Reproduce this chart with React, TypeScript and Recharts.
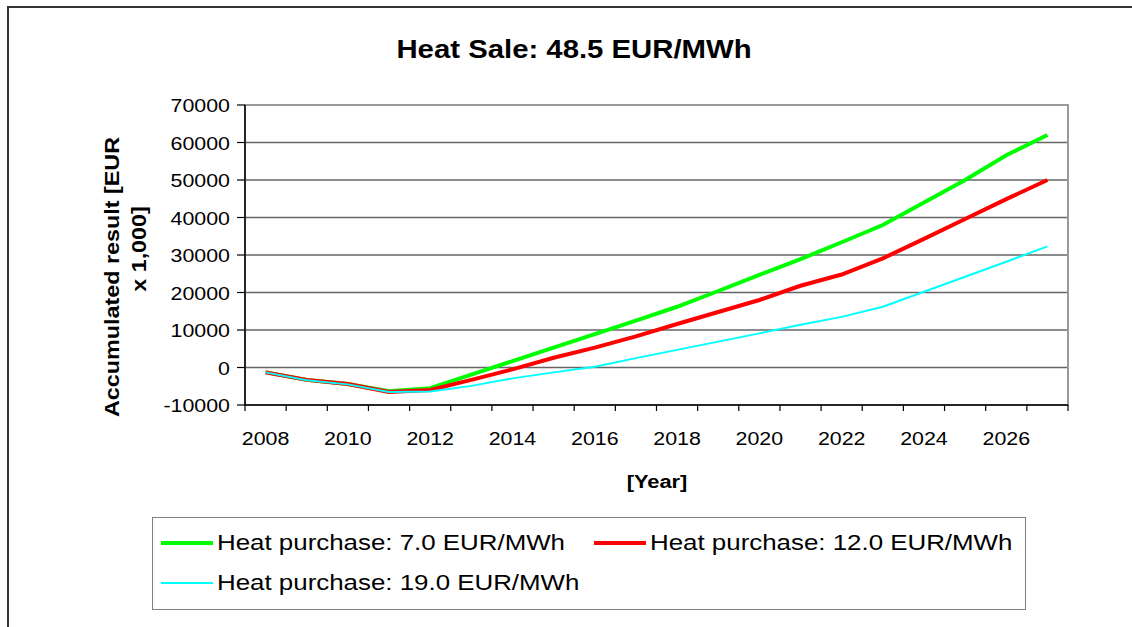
import { CartesianGrid, Line, LineChart, XAxis, YAxis } from 'recharts';

const years = [
  2008, 2009, 2010, 2011, 2012, 2013, 2014, 2015, 2016, 2017,
  2018, 2019, 2020, 2021, 2022, 2023, 2024, 2025, 2026, 2027,
];

const purchase7 = [
  -1300, -3300, -4400, -6300, -5500, -1900, 1700, 5300, 8900, 12500,
  16200, 20400, 24700, 28900, 33400, 38000, 44000, 50000, 56600, 62000,
];

const purchase12 = [
  -1300, -3300, -4400, -6500, -6000, -3300, -500, 2600, 5300, 8300,
  11600, 14800, 18000, 21800, 24800, 29100, 34300, 39600, 44900, 50000,
];

const purchase19 = [
  -1300, -3400, -4500, -6500, -6400, -4900, -2900, -1300, 200, 2500,
  4700, 6900, 9100, 11400, 13500, 16200, 20200, 24200, 28200, 32300,
];

const yTicks = [-10000, 0, 10000, 20000, 30000, 40000, 50000, 60000, 70000];

const series = [
  { key: 'p7', name: 'Heat purchase: 7.0 EUR/MWh', color: '#00ff00', width: 4, values: purchase7 },
  { key: 'p12', name: 'Heat purchase: 12.0 EUR/MWh', color: '#ff0000', width: 4, values: purchase12 },
  { key: 'p19', name: 'Heat purchase: 19.0 EUR/MWh', color: '#00ffff', width: 2, values: purchase19 },
];

const data = years.map((year, i) => {
  const row: Record<string, number> = { year };
  series.forEach((s) => {
    row[s.key] = s.values[i];
  });
  return row;
});

// Excel-style Arial, drawn a bit wider than normal
const FONT = '"Liberation Sans", Arial, sans-serif';
const STRETCH = 1.15;
const W = 1132;
const H = 627;
const M = { top: 105, right: 64, bottom: 172, left: 165 };
const Y_AXIS_W = 80;
const BAND = (W - M.left - Y_AXIS_W - M.right) / years.length;

function WideText(props: {
  x: number;
  y: number;
  size: number;
  bold?: boolean;
  anchor?: 'start' | 'middle' | 'end';
  rotate?: number;
  children: any;
}) {
  const { x, y, size, bold, anchor = 'middle', rotate = 0, children } = props;
  return (
    <g transform={`translate(${x},${y}) rotate(${rotate}) scale(${STRETCH},1)`}>
      <text
        x={0}
        y={0}
        textAnchor={anchor}
        fontFamily={FONT}
        fontWeight={bold ? 'bold' : 'normal'}
        fontSize={size}
        fill="#000"
      >
        {children}
      </text>
    </g>
  );
}

function XTick(props: any) {
  const { x, y, payload, index } = props;
  const half = BAND / 2;
  return (
    <g>
      <line x1={x - half} x2={x - half} y1={y} y2={y + 6} stroke="#000" strokeWidth={1.2} />
      {index === years.length - 1 && (
        <line x1={x + half} x2={x + half} y1={y} y2={y + 6} stroke="#000" strokeWidth={1.2} />
      )}
      {index % 2 === 0 && (
        <WideText x={x} y={y + 40} size={18.6}>
          {payload.value}
        </WideText>
      )}
    </g>
  );
}

function YTick(props: any) {
  const { x, y, payload } = props;
  return (
    <g>
      <line x1={x} x2={x + 8} y1={y} y2={y} stroke="#000" strokeWidth={1.2} />
      <WideText x={x - 7} y={y + 7} size={18.6} anchor="end">
        {payload.value}
      </WideText>
    </g>
  );
}

export default function App() {
  return (
    <div style={{ position: 'absolute', left: 0, top: 0, width: W, height: H, background: '#fff' }}>
      <div
        style={{
          position: 'absolute',
          left: 7,
          top: 6,
          right: 0,
          bottom: 0,
          borderTop: '2px solid #333',
          borderLeft: '2px solid #333',
        }}
      />
      <LineChart width={W} height={H} data={data} margin={M} style={{ position: 'absolute', left: 0, top: 0 }}>
        <WideText x={574} y={58} size={25.5} bold>
          Heat Sale: 48.5 EUR/MWh
        </WideText>
        <WideText x={119} y={277} size={20.3} bold rotate={-90}>
          Accumulated result [EUR
        </WideText>
        <WideText x={146} y={249} size={20.3} bold rotate={-90}>
          x 1,000]
        </WideText>
        <WideText x={657} y={488} size={19} bold>
          [Year]
        </WideText>
        <rect x={245} y={105} width={W - M.left - Y_AXIS_W - M.right} height={300} fill="none" stroke="#999" strokeWidth={2} />
        <CartesianGrid vertical={false} stroke="#666" strokeWidth={1.5} />
        <XAxis
          dataKey="year"
          scale="band"
          interval={0}
          height={50}
          tickSize={0}
          tickMargin={0}
          tick={<XTick />}
          stroke="#000"
          strokeWidth={1.5}
        />
        <YAxis
          type="number"
          domain={[-10000, 70000]}
          ticks={yTicks}
          width={Y_AXIS_W}
          tickSize={0}
          tickMargin={8}
          tick={<YTick />}
          stroke="#000"
          strokeWidth={1.5}
          allowDataOverflow
        />
        {series.map((s) => (
          <Line
            key={s.key}
            dataKey={s.key}
            name={s.name}
            stroke={s.color}
            strokeWidth={s.width}
            dot={false}
            activeDot={false}
            type="linear"
            isAnimationActive={false}
          />
        ))}
      </LineChart>
      <div
        style={{
          position: 'absolute',
          left: 152,
          top: 517,
          width: 872,
          height: 91,
          border: '1.5px solid #808080',
          fontFamily: FONT,
          fontSize: 22.5,
          color: '#000',
        }}
      >
        {series.map((s, i) => (
          <div
            key={s.key}
            style={{
              position: 'absolute',
              left: i === 1 ? 441 : 8,
              top: i === 2 ? 50 : 10,
              display: 'flex',
              alignItems: 'center',
              whiteSpace: 'nowrap',
              height: 30,
            }}
          >
            <span style={{ display: 'inline-block', width: 52, height: s.width, background: s.color, marginRight: 4 }} />
            <span style={{ display: 'inline-block', transform: `scaleX(${STRETCH})`, transformOrigin: 'left center' }}>
              {s.name}
            </span>
          </div>
        ))}
      </div>
    </div>
  );
}
